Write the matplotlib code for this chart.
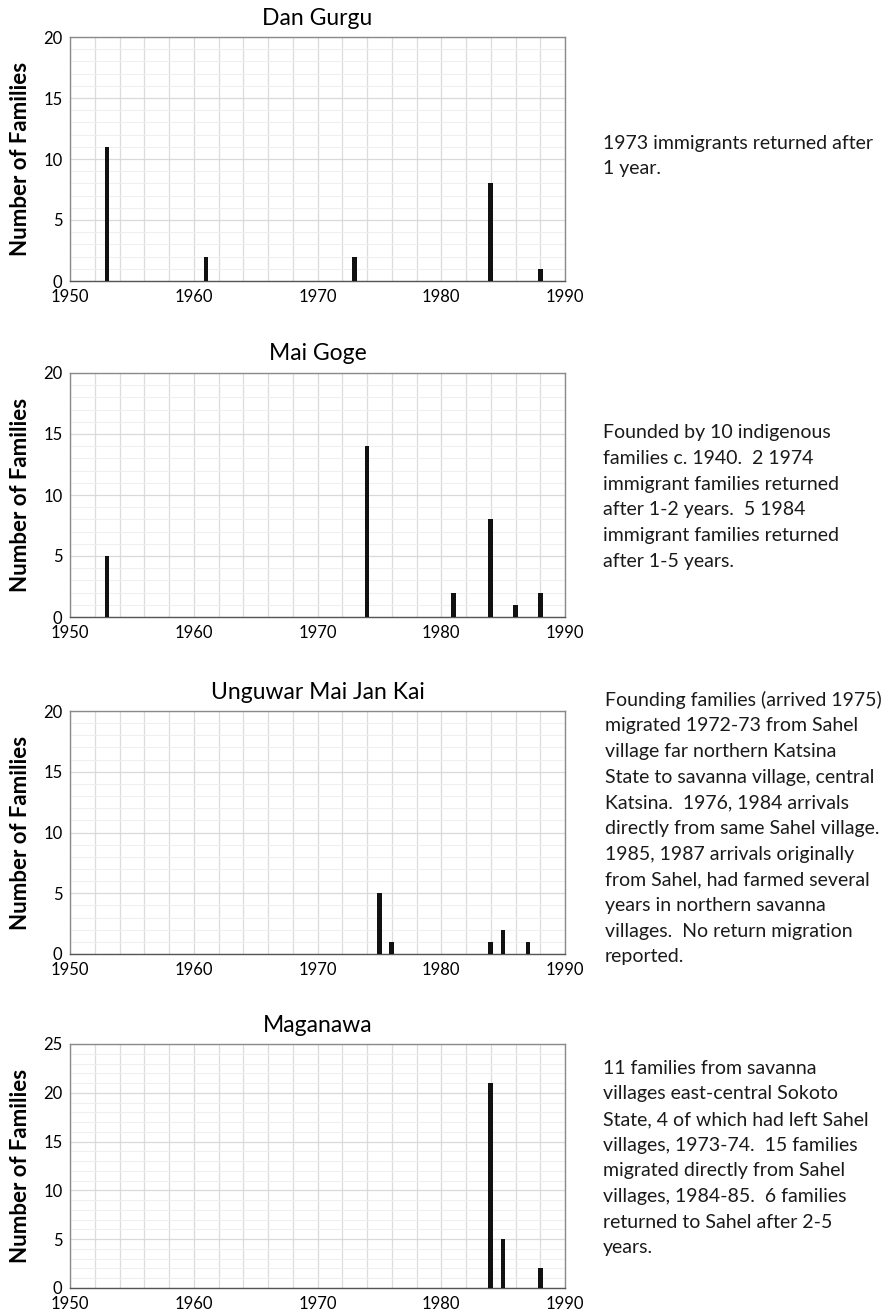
import matplotlib.pyplot as plt
from matplotlib.ticker import MultipleLocator

plt.rcParams['font.family'] = ['Lato', 'DejaVu Sans']

# village data: year of arrival -> number of families
titles = ["Dan Gurgu", "Mai Goge", "Unguwar Mai Jan Kai", "Maganawa"]

dan_years = [1953, 1961, 1973, 1984, 1988]
dan_counts = [11, 2, 2, 8, 1]

mai_years = [1953, 1974, 1981, 1984, 1986, 1988]
mai_counts = [5, 14, 2, 8, 1, 2]

ung_years = [1975, 1976, 1984, 1985, 1987]
ung_counts = [5, 1, 1, 2, 1]

mag_years = [1984, 1985, 1988]
mag_counts = [21, 5, 2]

ymaxes = [20, 20, 20, 25]

notes = [
    "1973 immigrants returned after\n1 year.",
    "Founded by 10 indigenous\nfamilies c. 1940.  2 1974\nimmigrant families returned\nafter 1-2 years.  5 1984\nimmigrant families returned\nafter 1-5 years.",
    "Founding families (arrived 1975)\nmigrated 1972-73 from Sahel\nvillage far northern Katsina\nState to savanna village, central\nKatsina.  1976, 1984 arrivals\ndirectly from same Sahel village.\n1985, 1987 arrivals originally\nfrom Sahel, had farmed several\nyears in northern savanna\nvillages.  No return migration\nreported.",
    "11 families from savanna\nvillages east-central Sokoto\nState, 4 of which had left Sahel\nvillages, 1973-74.  15 families\nmigrated directly from Sahel\nvillages, 1984-85.  6 families\nreturned to Sahel after 2-5\nyears.",
]

years = [dan_years, mai_years, ung_years, mag_years]
counts = [dan_counts, mai_counts, ung_counts, mag_counts]

W, H = 890, 1313
fig = plt.figure(figsize=(W / 100, H / 100), dpi=100)

# pixel layout: (axes top, axes bottom), note centre y, note x
ax_px = [(37, 281), (373, 617), (711, 954), (1044, 1288)]
note_cy = [156, 497, 828, 1158]
note_x = [603, 603, 605, 603]
left, right = 70, 565

for i in range(4):
    top, bot = ax_px[i]
    ax = fig.add_axes([left / W, 1 - bot / H, (right - left) / W, (bot - top) / H])
    ax.bar(years[i], counts[i], width=0.38, color='#111111', zorder=3)
    ax.set_xlim(1950, 1990)
    ax.set_ylim(0, ymaxes[i])
    ax.xaxis.set_major_locator(MultipleLocator(10))
    ax.xaxis.set_minor_locator(MultipleLocator(2))
    ax.yaxis.set_major_locator(MultipleLocator(5))
    ax.yaxis.set_minor_locator(MultipleLocator(1))
    ax.grid(which='major', color='#d9d9d9', linewidth=0.9, zorder=0)
    ax.grid(which='minor', axis='x', color='#dcdcdc', linewidth=0.9, zorder=0)
    ax.grid(which='minor', axis='y', color='#efefef', linewidth=0.8, zorder=0)
    ax.tick_params(which='both', length=0, labelsize=12)
    ax.tick_params(axis='x', pad=6)
    ax.tick_params(axis='y', pad=5.5)
    for s in ax.spines.values():
        s.set_color('#8a8a8a')
        s.set_linewidth(1)
    ax.spines['bottom'].set_color('#555555')
    ax.set_title(titles[i], fontsize=16.5, pad=9)
    ax.set_ylabel("Number of Families", fontsize=16, fontweight='bold', labelpad=9)

    fig.text(note_x[i] / W, 1 - note_cy[i] / H, notes[i], fontsize=14,
             va='center', ha='left', linespacing=1.62, color='#1a1a1a')

fig.savefig("out.png", dpi=100)
